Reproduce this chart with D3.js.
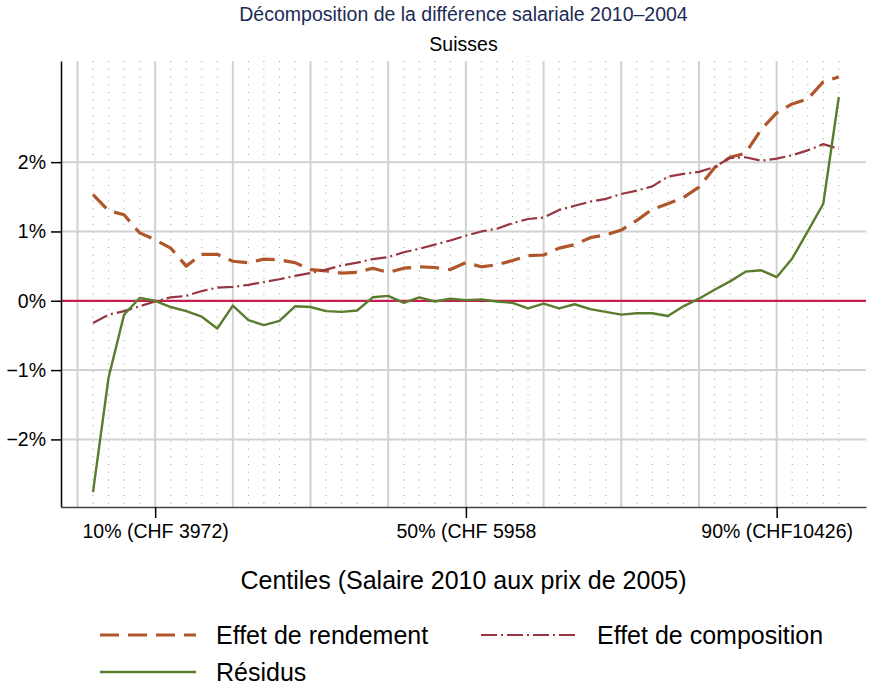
<!DOCTYPE html>
<html>
<head>
<meta charset="utf-8">
<script src="https://cdn.jsdelivr.net/npm/d3@7"></script>
<style>
  body { margin: 0; background: #fff; }
  svg text { font-family: "Liberation Sans", Arial, Helvetica, sans-serif; }
</style>
</head>
<body>
<div id="chart"></div>
<script>
// centiles (x) and the three decomposition series, in %
var centiles = [2,4,6,8,10,12,14,16,18,20,22,24,26,28,30,32,34,36,38,40,42,44,46,48,50,
                52,54,56,58,60,62,64,66,68,70,72,74,76,78,80,82,84,86,88,90,92,94,96,98]

var rendement = [1.53,1.30,1.24,0.98,0.88,0.76,0.50,0.67,0.67,0.57,0.55,0.60,0.59,0.55,0.45,0.43,0.40,0.41,0.47,0.41,0.47,0.49,0.48,0.45,0.55,
                 0.49,0.52,0.58,0.65,0.66,0.76,0.81,0.91,0.95,1.02,1.16,1.32,1.40,1.49,1.64,1.92,2.07,2.13,2.47,2.71,2.84,2.91,3.16,3.23]

var composition = [-0.32,-0.20,-0.15,-0.08,-0.01,0.05,0.07,0.14,0.19,0.20,0.23,0.27,0.31,0.36,0.40,0.45,0.51,0.55,0.60,0.63,0.70,0.75,0.81,0.87,0.94,
                   1.00,1.04,1.12,1.18,1.20,1.31,1.37,1.43,1.47,1.54,1.59,1.65,1.79,1.83,1.86,1.93,2.06,2.07,2.02,2.05,2.10,2.17,2.26,2.19]

var residus = [-2.76,-1.11,-0.20,0.04,0.00,-0.09,-0.15,-0.23,-0.40,-0.07,-0.28,-0.35,-0.29,-0.08,-0.09,-0.15,-0.16,-0.14,0.05,0.07,-0.03,0.05,-0.01,0.03,0.01,
               0.02,-0.01,-0.03,-0.11,-0.04,-0.11,-0.05,-0.12,-0.16,-0.20,-0.18,-0.18,-0.22,-0.08,0.03,0.16,0.28,0.42,0.44,0.34,0.61,1.00,1.40,2.94]

var y_ticks = [-2,-1,0,1,2]
var x_major = [0,10,20,30,40,50,60,70,80,90]
var x_minor = [2,4,6,8,12,14,16,18,22,24,26,28,32,34,36,38,42,44,46,48,52,54,56,58,
               62,64,66,68,72,74,76,78,82,84,86,88,92,94,96,98]
var x_ticks = [10,50,90]
var x_labels = ["10% (CHF 3972)","50% (CHF 5958","90% (CHF10426)"]

var series = [
    {label:"Effet de rendement", values:rendement, color:"#b0562b", width:3.2, dash:"19,9"},
    {label:"Effet de composition", values:composition, color:"#973641", width:2.2, dash:"16,4,2,4"},
    {label:"Résidus", values:residus, color:"#5a7c2f", width:2.4, dash:null}
]

var W = 869, H = 691
const margin = {top: 61, right: 3, bottom: 184, left: 61},
    width = W - margin.left - margin.right,
    height = H - margin.top - margin.bottom

var svg_root = d3.select("#chart").append("svg")
    .attr("width", W).attr("height", H)

var svg = svg_root.append("g")
    .attr("transform", `translate(${margin.left}, ${margin.top})`)

var x = d3.scaleLinear().domain([-2.12, 101.5]).range([0, width])
var y = d3.scaleLinear().domain([-2.975, 3.459]).range([height, 0])

// minor dotted grid
svg.selectAll(".minor").data(x_minor).join("line")
    .attr("x1", d => x(d)).attr("x2", d => x(d))
    .attr("y1", 0).attr("y2", height)
    .attr("stroke", "#9a9a9a").attr("stroke-width", 1)
    .attr("stroke-dasharray", "1,6.75")

// major grid
svg.selectAll(".vmajor").data(x_major).join("line")
    .attr("x1", d => x(d)).attr("x2", d => x(d))
    .attr("y1", 0).attr("y2", height)
    .attr("stroke", "#d2d2d2").attr("stroke-width", 2)

svg.selectAll(".hmajor").data(y_ticks.filter(d => d != 0)).join("line")
    .attr("x1", 0).attr("x2", width)
    .attr("y1", d => y(d)).attr("y2", d => y(d))
    .attr("stroke", "#d2d2d2").attr("stroke-width", 2)

// zero line
svg.append("line")
    .attr("x1", 0).attr("x2", width)
    .attr("y1", y(0)).attr("y2", y(0))
    .attr("stroke", "#c61f4f").attr("stroke-width", 2.2)

// series
var line = d3.line().x((d, i) => x(centiles[i])).y(d => y(d))
series.forEach(function(s){
    svg.append("path")
        .datum(s.values)
        .attr("d", line)
        .attr("fill", "none")
        .attr("stroke", s.color)
        .attr("stroke-width", s.width)
        .attr("stroke-dasharray", s.dash)
        .attr("stroke-linejoin", "round")
})

// axes
var fmt = d => (d < 0 ? "\u2212" + Math.abs(d) : d) + "%"
var y_axis = svg.append("g")
    .call(d3.axisLeft(y).tickValues(y_ticks).tickFormat(fmt).tickSize(10).tickSizeOuter(0).tickPadding(5))
y_axis.selectAll("text").style("font-size", "19.5px").attr("fill", "#000")
y_axis.selectAll("line, path").attr("stroke", "#000").attr("stroke-width", 1.5)

var x_axis = svg.append("g")
    .attr("transform", `translate(0, ${height})`)
    .call(d3.axisBottom(x).tickValues(x_ticks).tickFormat((d, i) => x_labels[i]).tickSize(11).tickSizeOuter(0).tickPadding(6))
x_axis.selectAll("text").style("font-size", "19.5px").attr("fill", "#000")
x_axis.selectAll("line").attr("stroke", "#000").attr("stroke-width", 1.5)
x_axis.select("path").attr("stroke", "#444").attr("stroke-width", 1.5)

// titles
var cx = margin.left + width / 2
svg_root.append("text").attr("x", cx).attr("y", 21).attr("text-anchor", "middle")
    .style("font-size", "19.5px").attr("fill", "#1c2b55")
    .text("Décomposition de la différence salariale 2010\u20132004")
svg_root.append("text").attr("x", cx).attr("y", 51).attr("text-anchor", "middle")
    .style("font-size", "19.5px").attr("fill", "#000")
    .text("Suisses")
svg_root.append("text").attr("x", cx).attr("y", 589).attr("text-anchor", "middle")
    .style("font-size", "25px").attr("fill", "#000")
    .text("Centiles (Salaire 2010 aux prix de 2005)")

// legend
var legend_pos = [{x:100, y:635}, {x:481, y:635}, {x:100, y:672}]
series.forEach(function(s, i){
    var p = legend_pos[i]
    var g = svg_root.append("g").attr("transform", `translate(${p.x}, ${p.y})`)
    g.append("line").attr("x1", 0).attr("x2", 96).attr("y1", 0).attr("y2", 0)
        .attr("stroke", s.color).attr("stroke-width", s.width)
        .attr("stroke-dasharray", s.dash)
    g.append("text").attr("x", 116).attr("y", 0).attr("dy", "0.35em")
        .style("font-size", "25px").attr("fill", "#000")
        .text(s.label)
})
</script>
</body>
</html>
